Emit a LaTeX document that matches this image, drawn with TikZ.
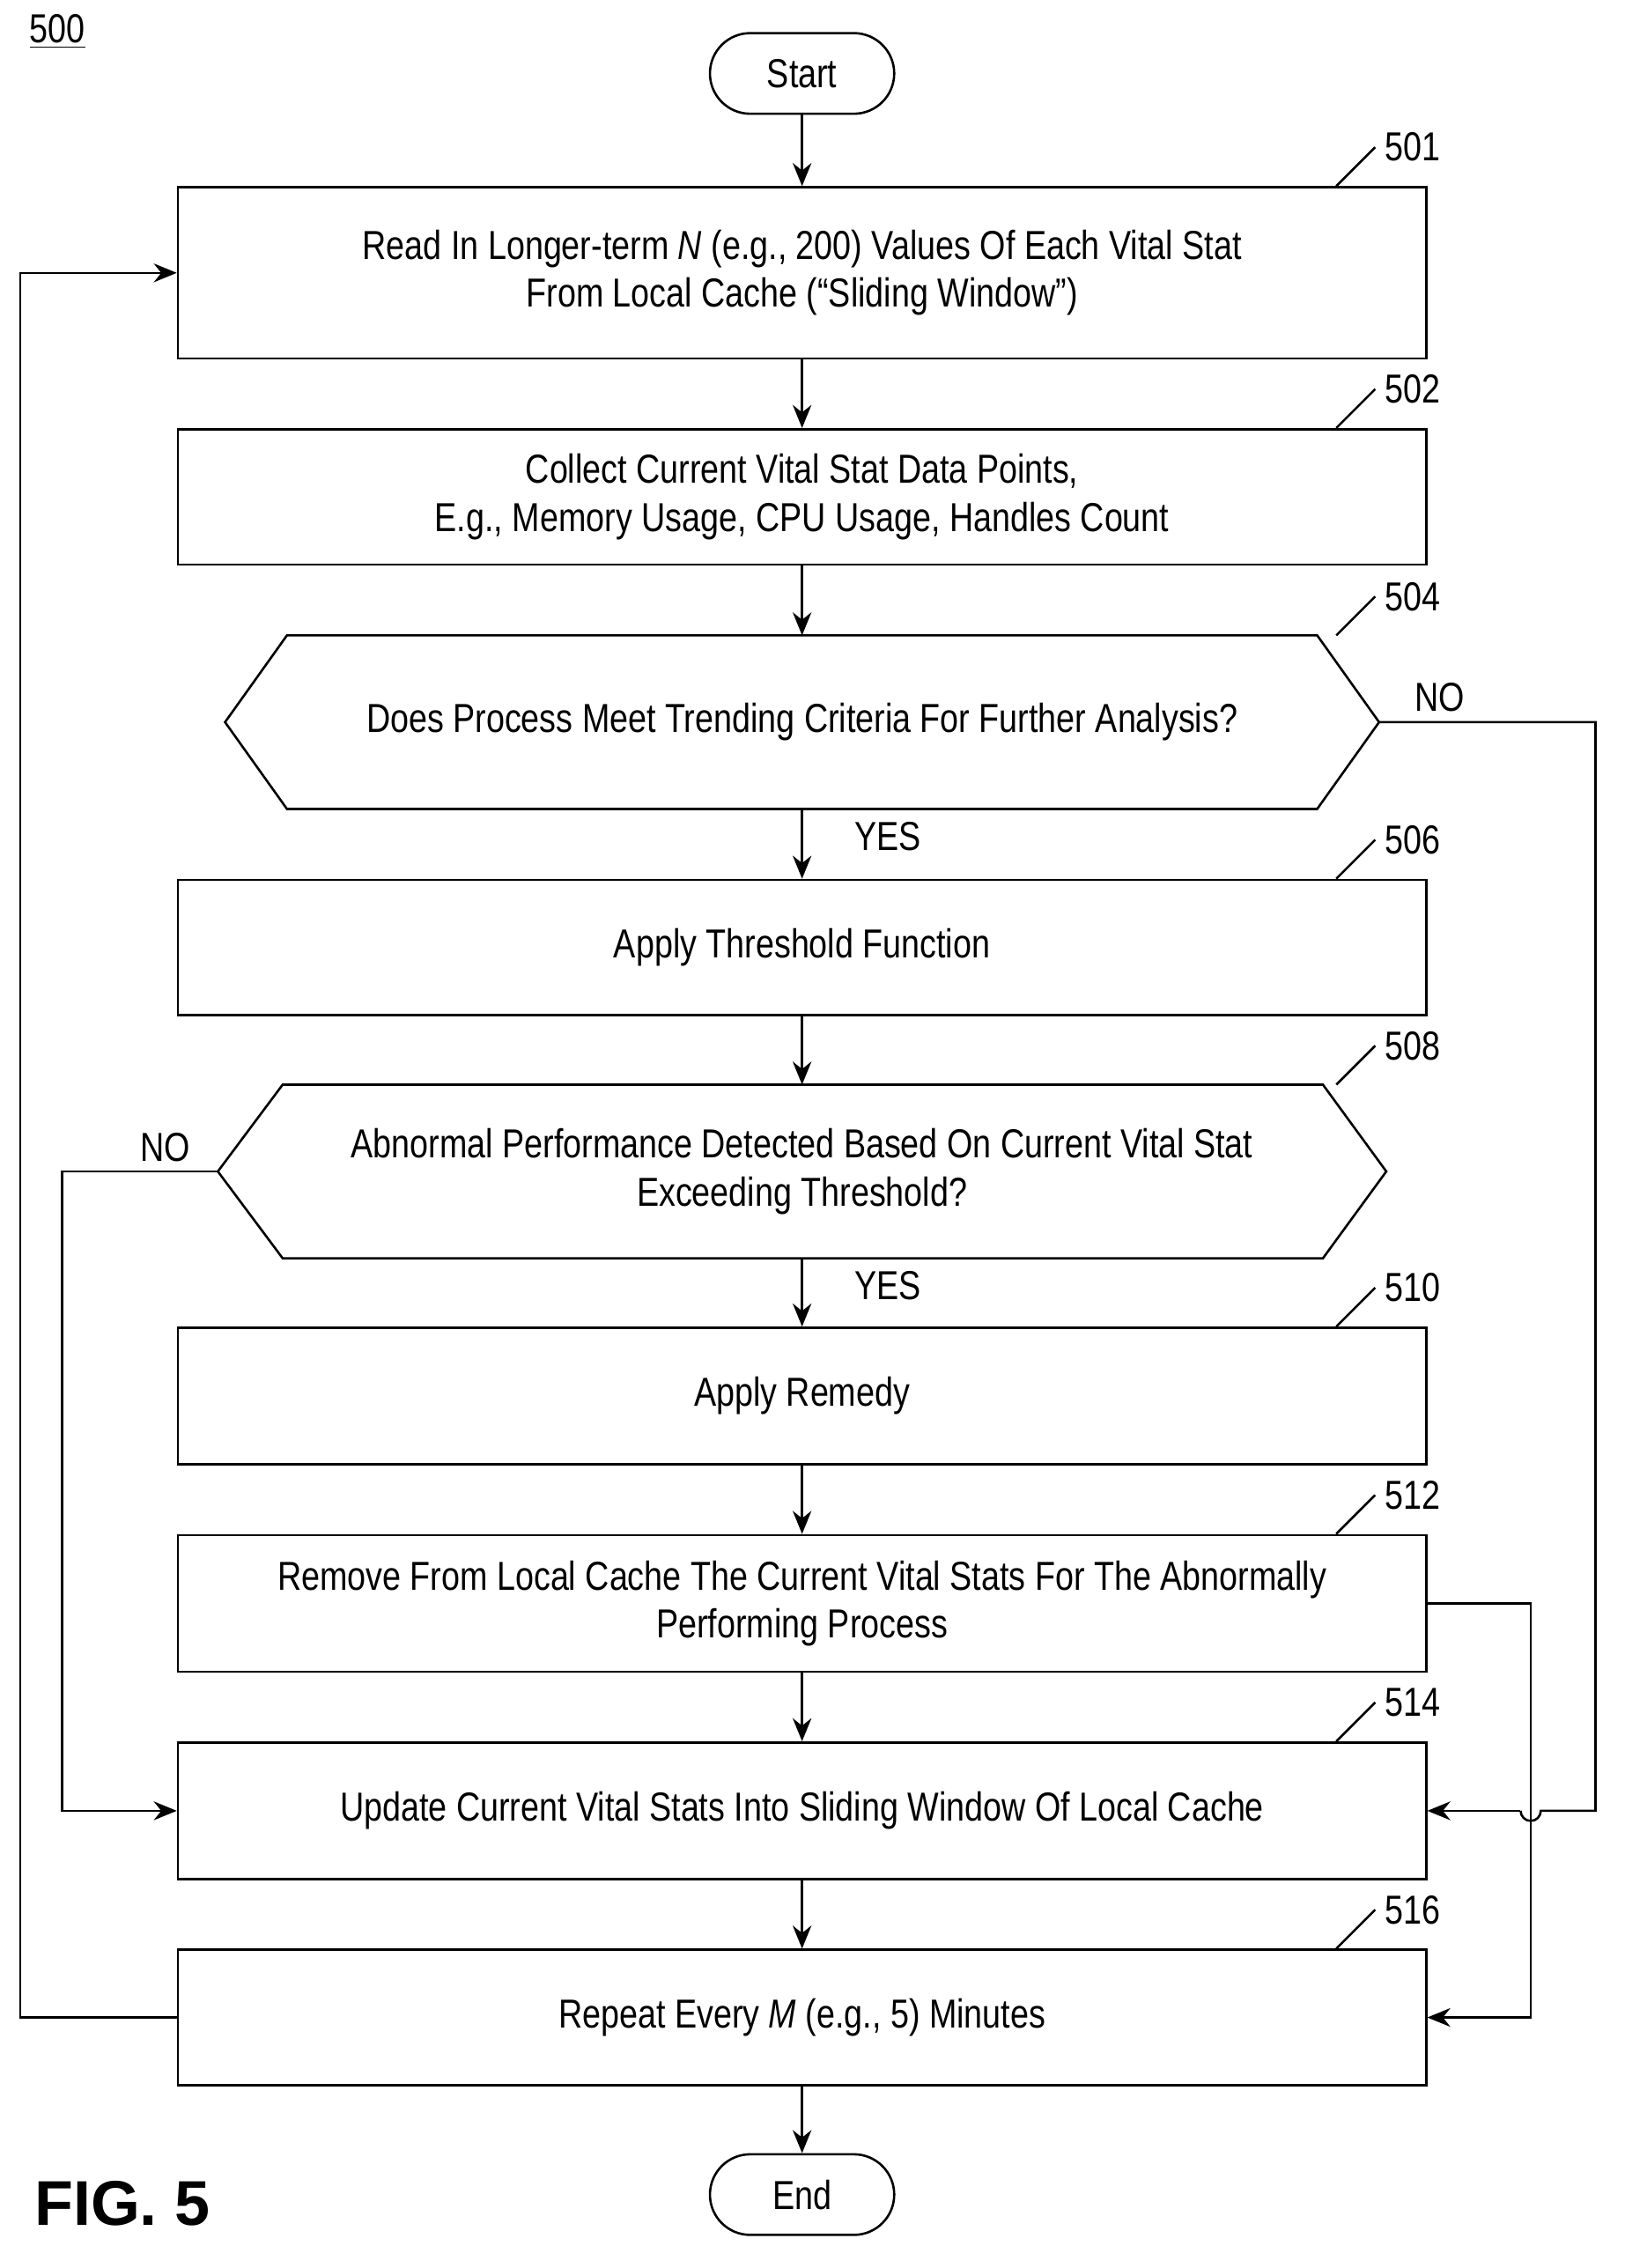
\documentclass[tikz,border=0pt]{standalone}
\usepackage{fontspec}
\setmainfont{Liberation Sans}[FakeStretch=0.82]
\newfontfamily\figfont{Liberation Sans}
\usetikzlibrary{arrows.meta,positioning}

\begin{document}
\begin{tikzpicture}[x=0.02cm, y=-0.02cm, line width=0.9pt,
		procbox/.style = {rectangle, draw, minimum width=17.34cm, align=center, font=\fontsize{16}{19}\selectfont},
		term/.style = {rectangle, draw, rounded corners=0.56cm, minimum width=2.56cm, minimum height=1.12cm, font=\fontsize{16}{19}\selectfont},
		decide/.style = {rectangle, minimum width=16cm, minimum height=2.38cm, align=center, font=\fontsize{16}{19}\selectfont},
		lbl/.style = {font=\fontsize{16}{19}\selectfont},
		flow/.style = {-{Stealth[length=3.2mm, width=2.6mm]}}]
	\useasboundingbox (0,0) rectangle (1128,1575);
	\node[lbl] (fignum) at (40,22) {\underline{500}};
	\node[font=\figfont\bfseries\fontsize{25}{30}\selectfont] (figname) at (85,1530) {FIG. 5};
	% Terminals and steps
	\node (start) at (557,51) [term] {Start};
	\node (b501) at (557,189.5) [procbox, minimum height=2.38cm] {Read In Longer-term \emph{N} (e.g., 200) Values Of Each Vital Stat\\From Local Cache (“Sliding Window”)};
	\node (b502) at (557,345) [procbox, minimum height=1.88cm] {Collect Current Vital Stat Data Points,\\E.g., Memory Usage, CPU Usage, Handles Count};
	\node (d504) at (557,501.5) [decide] {Does Process Meet Trending Criteria For Further Analysis?};
	\node (b506) at (557,658) [procbox, minimum height=1.88cm] {Apply Threshold Function};
	\node (d508) at (557,813.5) [decide, minimum width=16.2cm] {Abnormal Performance Detected Based On Current Vital Stat\\Exceeding Threshold?};
	\node (b510) at (557,969.5) [procbox, minimum height=1.9cm] {Apply Remedy};
	\node (b512) at (557,1113.5) [procbox, minimum height=1.9cm] {Remove From Local Cache The Current Vital Stats For The Abnormally\\Performing Process};
	\node (b514) at (557,1257.5) [procbox, minimum height=1.9cm] {Update Current Vital Stats Into Sliding Window Of Local Cache};
	\node (b516) at (557,1401) [procbox, minimum height=1.88cm] {Repeat Every \emph{M} (e.g., 5) Minutes};
	\node (stop) at (557,1524) [term] {End};
	% Hexagon outlines
	\draw (d504.west) -- ([xshift=0.86cm]d504.north west) -- ([xshift=-0.86cm]d504.north east) -- (d504.east) -- ([xshift=-0.86cm]d504.south east) -- ([xshift=0.86cm]d504.south west) -- cycle;
	\draw (d508.west) -- ([xshift=0.9cm]d508.north west) -- ([xshift=-0.88cm]d508.north east) -- (d508.east) -- ([xshift=-0.88cm]d508.south east) -- ([xshift=0.9cm]d508.south west) -- cycle;
	% Reference numerals
	\coordinate (refx) at (928,0);
	\foreach \n/\num in {b501/501, b502/502, d504/504, b506/506, d508/508, b510/510, b512/512, b514/514, b516/516}
		\draw (refx |- \n.north) -- ++(27,-27) node[lbl, right] {\num};
	% Main flow
	\draw[flow] (start) -- (b501);
	\draw[flow] (b501) -- (b502);
	\draw[flow] (b502) -- (d504);
	\draw[flow] (d504) -- node[lbl, right=0.6cm, pos=0.4] {YES} (b506);
	\draw[flow] (b506) -- (d508);
	\draw[flow] (d508) -- node[lbl, right=0.6cm, pos=0.4] {YES} (b510);
	\draw[flow] (b510) -- (b512);
	\draw[flow] (b512) -- (b514);
	\draw[flow] (b514) -- (b516);
	\draw[flow] (b516) -- (stop);
	% Side branches
	\coordinate (no504) at (1108,501.5);
	\coordinate (hopA) at (1070,1257.5);
	\coordinate (hopB) at (1056,1257.5);
	\node[lbl] (no504lbl) at (1000,484) {NO};
	\node[lbl] (no508lbl) at (115,797) {NO};
	\draw (d504.east) -- (no504) |- (hopA) arc[start angle=0, end angle=180, radius=7];
	\draw[flow] (hopB) -- (b514.east);
	\draw[flow] (d508.west) -- (43,813.5) |- (b514.west);
	\draw[flow] (b512.east) -- (1063,1113.5) |- (b516.east);
	\draw[flow] (b516.west) -- (14,1401) |- (b501.west);
\end{tikzpicture}
\end{document}
